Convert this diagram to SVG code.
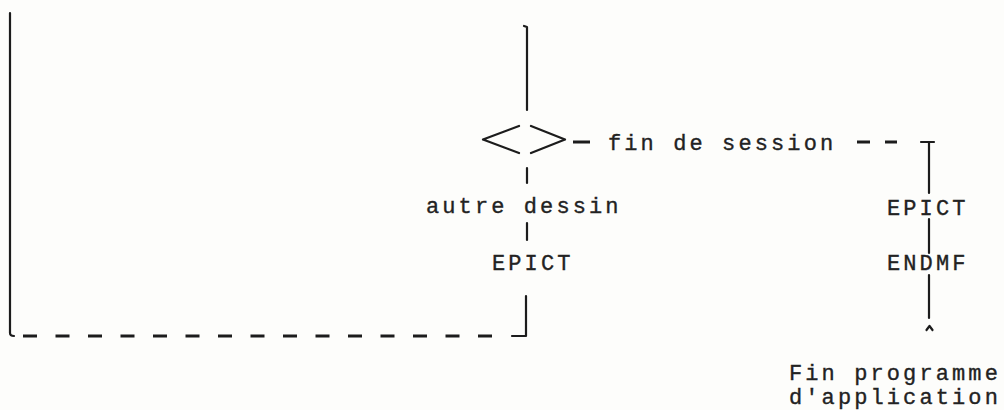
<svg xmlns="http://www.w3.org/2000/svg" width="1004" height="410" viewBox="0 0 1004 410">
<style>
.t{font-family:"Liberation Mono","Courier New",monospace;font-size:22px;letter-spacing:3.1px;fill:#222;stroke:#222;stroke-width:0.35}
.ln{stroke:#1c1c1c;stroke-width:2.2;fill:none;stroke-linecap:round;stroke-linejoin:round}
.dh{stroke:#1c1c1c;stroke-width:3;fill:none;stroke-linecap:butt}
</style>
<rect width="1004" height="410" fill="#fdfdfb"/>
<g id="connectors">
<path class="ln" d="M10,13 V333 Q10,336 14,336"/>
<path class="dh" d="M23,336 H37 M55.5,336 H69.5 M88,336 H102 M120.5,336 H134.5 M153,336 H167 M185.5,336 H199.5 M218,336 H232 M250.5,336 H264.5 M283,336 H297 M315.5,336 H329.5 M348,336 H362 M380.5,336 H394.5 M413,336 H427 M445.5,336 H459.5 M478,336 H492"/>
<path class="ln" d="M512,336 H526 V296"/>
<path class="ln" d="M524,26 L527,27 V110"/>
<path class="ln" d="M527,168 V183"/>
<path class="ln" d="M527,223 V240"/>
<path class="dh" d="M573,142 H590 M857,142 H870 M885,142 H897"/>
<path class="ln" d="M921,142 H934 M929,142 V193"/>
<path class="ln" d="M929,219 V253"/>
<path class="ln" d="M929,275 V318"/>
<path class="ln" d="M926.5,330 L929.5,326 L932.5,330"/>
</g>
<g id="decision">
<path class="ln" stroke-width="3" d="M519,126 L483,139.5 L519,153 M531,126 L565,139.5 L531,153"/>
</g>
<g id="label-fin-session"><text class="t" x="608" y="150">fin de session</text></g>
<g id="label-autre-dessin"><text class="t" x="426" y="213">autre dessin</text></g>
<g id="node-epict-left"><text class="t" x="492" y="270">EPICT</text></g>
<g id="node-epict-right"><text class="t" x="887" y="215">EPICT</text></g>
<g id="node-endmf"><text class="t" x="887" y="270">ENDMF</text></g>
<g id="label-fin-programme">
<text class="t" x="789" y="380">Fin programme</text>
<text class="t" x="789" y="404">d'application</text>
</g>
</svg>
